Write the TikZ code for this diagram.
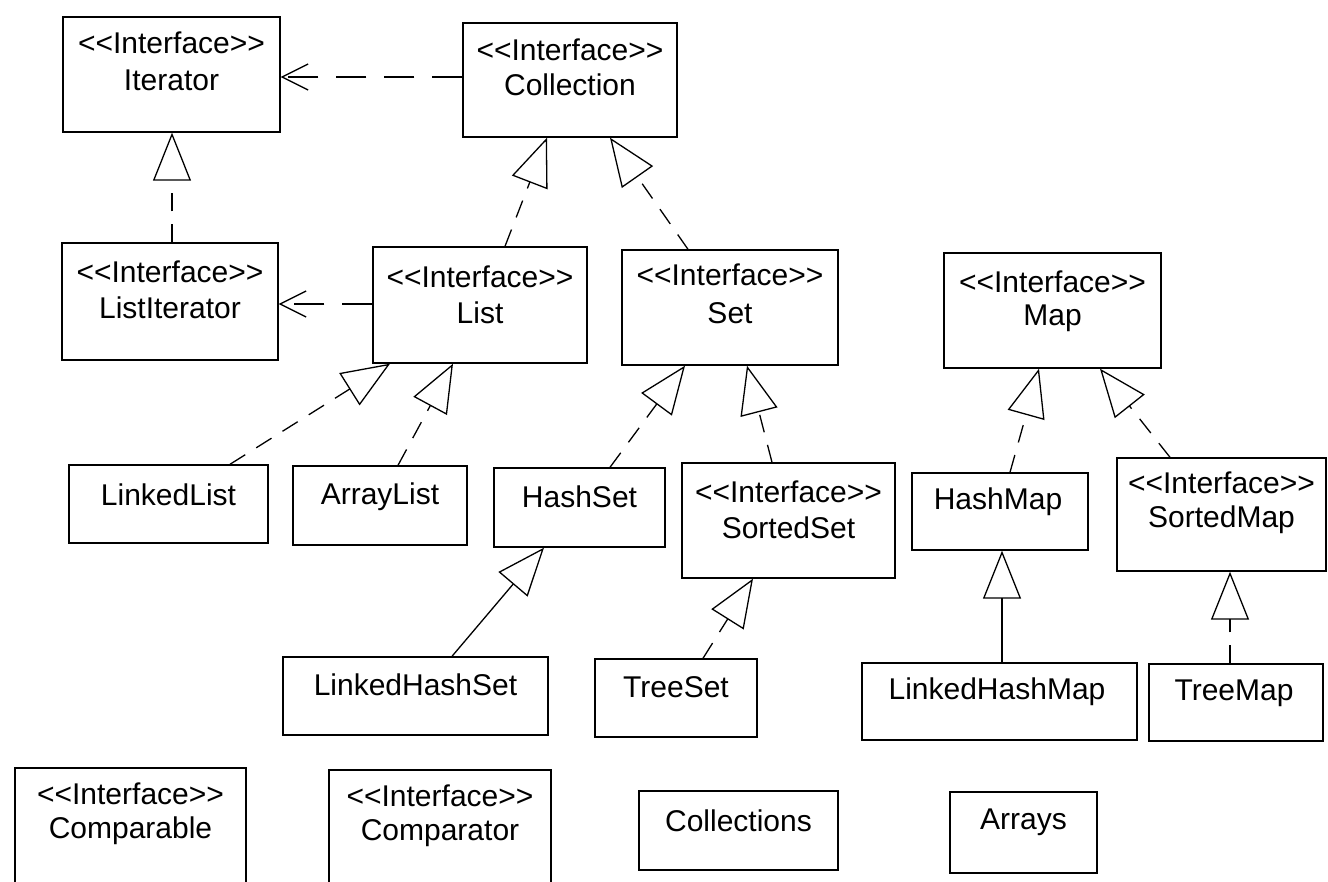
\documentclass[tikz,border=0pt]{standalone}
\usepackage{fontspec}
\setmainfont{Liberation Sans}
\usetikzlibrary{arrows.meta}
% stereotype brackets, kept apart so they stay plain angle brackets
\newcommand\umlstereo[1]{<\kern0pt<#1>\kern0pt>}
\begin{document}
\begin{tikzpicture}[x=1pt,y=-1pt,
  box/.style={draw, line width=1.4pt, rectangle, inner sep=0pt},
  lbl/.style={inner sep=0pt, font=\fontsize{30}{34}\selectfont},
  conn/.style={line width=1.3pt},
  dashline/.style={conn, dash pattern=on 18pt off 13pt},
  realize/.style={dashline, -{Triangle[open, length=48pt, width=38pt]}},
  extends/.style={conn, -{Triangle[open, length=48pt, width=38pt]}},
  uses/.style={conn, dash pattern=on 30pt off 18pt, -{Straight Barb[length=26pt, width=26pt]}},
]
\useasboundingbox (0,0) rectangle (1328,882);
\clip (0,0) rectangle (1328,882);

% ---- interfaces, top two rows ----
\node[box, minimum width=217pt, minimum height=115pt] (iterator) at (171.5,74.5) {};
\node[lbl] (iterator-s) at (171.5,43) {\umlstereo{Interface}};
\node[lbl] (iterator-n) at (171.5,80) {Iterator};

\node[box, minimum width=214pt, minimum height=114pt] (collection) at (570,80) {};
\node[lbl] (collection-s) at (570,50) {\umlstereo{Interface}};
\node[lbl] (collection-n) at (570,85) {Collection};

\node[box, minimum width=216pt, minimum height=117pt] (listit) at (170,301.5) {};
\node[lbl] (listit-s) at (170,272) {\umlstereo{Interface}};
\node[lbl] (listit-n) at (170,308) {ListIterator};

\node[box, minimum width=214pt, minimum height=116pt] (list) at (480,305) {};
\node[lbl] (list-s) at (480,277) {\umlstereo{Interface}};
\node[lbl] (list-n) at (480,313) {List};

\node[box, minimum width=216pt, minimum height=115pt] (set) at (730,307.5) {};
\node[lbl] (set-s) at (730,275) {\umlstereo{Interface}};
\node[lbl] (set-n) at (730,313) {Set};

\node[box, minimum width=217pt, minimum height=115pt] (map) at (1052.5,310.5) {};
\node[lbl] (map-s) at (1052.5,282) {\umlstereo{Interface}};
\node[lbl] (map-n) at (1052.5,318) {Map};

% ---- third row ----
\node[box, minimum width=199pt, minimum height=78pt] (linkedlist) at (168.5,504) {};
\node[lbl] (linkedlist-n) at (168.5,495) {LinkedList};

\node[box, minimum width=174pt, minimum height=79pt] (arraylist) at (380,505.5) {};
\node[lbl] (arraylist-n) at (380,497) {ArrayList};

\node[box, minimum width=171pt, minimum height=79pt] (hashset) at (579.5,507.5) {};
\node[lbl] (hashset-n) at (579.5,497) {HashSet};

\node[box, minimum width=213pt, minimum height=115pt] (sortedset) at (788.5,520.5) {};
\node[lbl] (sortedset-s) at (788.5,492) {\umlstereo{Interface}};
\node[lbl] (sortedset-n) at (788.5,528) {SortedSet};

\node[box, minimum width=176pt, minimum height=77pt] (hashmap) at (1000,511.5) {};
\node[lbl] (hashmap-n) at (998,502) {HashMap};

\node[box, minimum width=209pt, minimum height=113pt] (sortedmap) at (1221.5,514.5) {};
\node[lbl] (sortedmap-s) at (1221.5,483) {\umlstereo{Interface}};
\node[lbl] (sortedmap-n) at (1221.5,520) {SortedMap};

% ---- fourth row ----
\node[box, minimum width=265pt, minimum height=78pt] (linkedhashset) at (415.5,696) {};
\node[lbl] (linkedhashset-n) at (415.5,685) {LinkedHashSet};

\node[box, minimum width=162pt, minimum height=78pt] (treeset) at (676,698) {};
\node[lbl] (treeset-n) at (676,687) {TreeSet};

\node[box, minimum width=275pt, minimum height=77pt] (linkedhashmap) at (999.5,701.5) {};
\node[lbl] (linkedhashmap-n) at (997,692) {LinkedHashMap};

\node[box, minimum width=174pt, minimum height=77pt] (treemap) at (1236,702.5) {};
\node[lbl] (treemap-n) at (1234,693) {TreeMap};

% ---- utility types ----
\node[box, minimum width=231pt, minimum height=140pt] (comparable) at (130.5,838) {};
\node[lbl] (comparable-s) at (130.5,794) {\umlstereo{Interface}};
\node[lbl] (comparable-n) at (130.5,831) {Comparable};

\node[box, minimum width=222pt, minimum height=140pt] (comparator) at (440,840) {};
\node[lbl] (comparator-s) at (440,796) {\umlstereo{Interface}};
\node[lbl] (comparator-n) at (440,833) {Comparator};

\node[box, minimum width=199pt, minimum height=79pt] (collections) at (738.5,830.5) {};
\node[lbl] (collections-n) at (738.5,821) {Collections};

\node[box, minimum width=147pt, minimum height=81pt] (arrays) at (1023.5,832.5) {};
\node[lbl] (arrays-n) at (1023.5,822) {Arrays};

% ---- dependencies ----
\draw[uses] ([yshift=3pt]collection.west) -- ([yshift=-2.5pt]iterator.east);
\draw[uses] ([yshift=1pt]list.west) -- ([yshift=-2.5pt]listit.east);

% ---- interface inheritance and realizations ----
\draw[realize] ([xshift=2pt]listit.north) -- ([xshift=0.5pt]iterator.south);
\draw[realize] ([xshift=25pt]list.north) -- ([xshift=-23pt]collection.south);
\draw[realize] ([xshift=-42pt]set.north) -- ([xshift=40pt]collection.south);
\draw[realize] ([xshift=61.5pt]linkedlist.north) -- ([xshift=-90pt]list.south);
\draw[realize] ([xshift=18pt]arraylist.north) -- ([xshift=-27pt]list.south);
\draw[realize] ([xshift=30.5pt]hashset.north) -- ([xshift=-45pt]set.south);
\draw[realize] ([xshift=-16.5pt]sortedset.north) -- ([xshift=17pt]set.south);
\draw[realize] ([xshift=10pt]hashmap.north) -- ([xshift=-13.5pt]map.south);
\draw[realize] ([xshift=-51.5pt]sortedmap.north) -- ([xshift=47.5pt]map.south);
\draw[realize] ([xshift=27pt]treeset.north) -- ([xshift=-35.5pt]sortedset.south);
\draw[realize] ([xshift=-6pt]treemap.north) -- ([xshift=8.5pt]sortedmap.south);

% ---- class inheritance ----
\draw[extends] ([xshift=36.5pt]linkedhashset.north) -- ([xshift=-35.5pt]hashset.south);
\draw[extends] ([xshift=2.5pt]linkedhashmap.north) -- ([xshift=2pt]hashmap.south);
\end{tikzpicture}
\end{document}
